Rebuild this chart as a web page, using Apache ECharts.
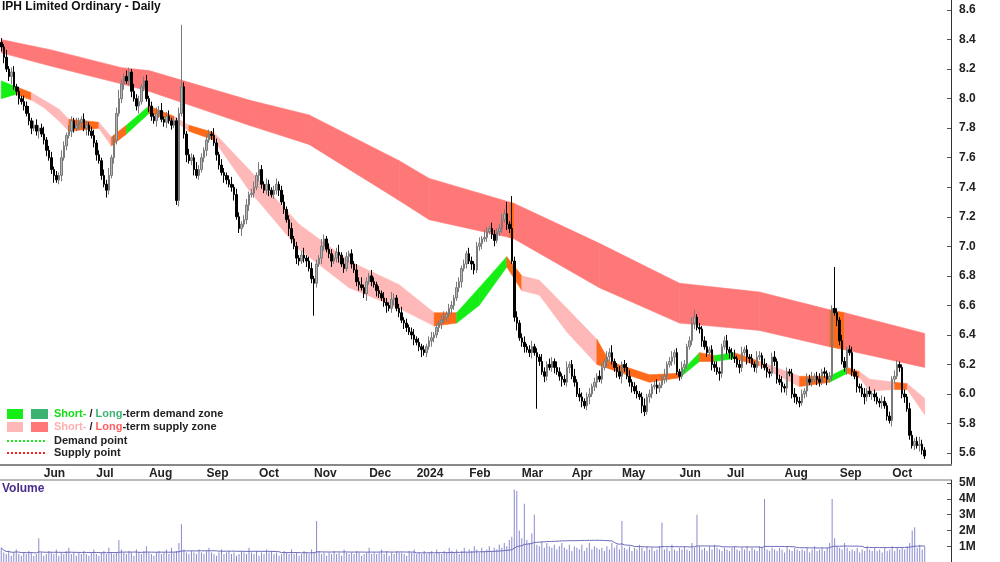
<!DOCTYPE html>
<html><head><meta charset="utf-8">
<script src="https://cdn.jsdelivr.net/npm/echarts@6/dist/echarts.min.js"></script>
<style>html,body{margin:0;padding:0;background:#fff}#c{width:1000px;height:562px}</style>
</head><body><div id="c"></div>
<script>
// Closing prices in cents (one per trading day)
const closes = [
835,828,820,815, 818,808,805,800, 798,795,790,785, 780,782,778,780, 776,772,765,760,
752,748,745,748, 760,768,775,778, 785,780,782,784, 786,780,782,778, 775,770,762,758,
748,742,738,748, 760,772,790,800, 810,815,812,818, 805,800,795,798, 808,812,800,795,
788,785,790,792, 786,784,788,785, 782,785,731,790, 808,776,762,758, 760,752,748,752,
760,765,772,776, 775,770,762,755, 750,748,745,742, 740,735,720,712, 715,718,728,735,
736,740,748,752, 742,738,742,738, 735,738,742,738, 730,725,718,712, 705,700,692,690,
694,692,690,685, 678,675,688,692, 700,705,698,695, 690,692,696,694, 688,685,693,695,
688,684,676,674, 672,668,676,680, 676,674,670,668, 665,662,660,658, 664,665,658,655,
650,648,645,642, 640,637,635,632, 630,628,632,636, 638,640,645,648, 650,652,654,658,
660,665,672,676, 685,688,695,690, 688,684,700,702, 705,706,710,712, 708,704,710,712,
718,722,715,712, 690,652,648,638, 635,632,630,628, 632,628,625,622, 615,612,620,618,
622,618,615,612, 610,608,618,620, 612,608,600,598, 595,592,598,600, 605,608,612,610,
618,622,625,628, 622,618,615,612, 620,618,612,608, 605,602,600,598, 592,588,598,600,
605,606,604,606, 610,612,620,622, 625,628,615,612, 618,620,632,636, 648,652,645,644,
636,632,628,630, 620,618,615,614, 632,636,630,628, 625,624,620,618, 628,630,625,624,
620,618,625,626, 620,618,615,614, 625,622,610,608, 605,604,615,614, 600,598,595,594,
600,602,610,608, 610,612,610,608, 615,614,610,612, 658,655,650,636, 622,618,630,628,
615,612,605,604, 600,598,602,600, 600,598,595,594, 595,592,585,582, 610,612,620,618,
600,598,590,572, 565,568,565,566, 562,558
];
// Upper / lower wick lengths in cents
const wickUp = [
3,2,5,2,3,4,2,3,2,4, 3,5,2,3,4,2,3,5,2,3, 4,2,3,2,5,3,2,4,3,2, 5,3,2,4,3,2,3,4,2,3,
2,4,3,5,2,3,4,6,3,2, 4,3,2,5,3,4,2,3,4,2, 3,2,4,3,5,2,3,4,2,3, 2,4,42,3,2,4,3,2,5,3,
3,2,4,3,2,5,3,2,4,3, 2,3,5,2,4,3,2,3,4,2, 3,4,2,5,3,2,4,3,2,3, 4,2,3,5,2,3,4,2,3,2,
3,5,2,3,4,2,3,2,5,3, 2,4,3,2,3,5,2,4,3,2, 3,2,4,3,5,2,3,2,4,3, 2,3,2,4,3,2,5,3,2,3,
4,2,3,2,3,4,2,3,2,3, 2,3,4,2,3,2,3,4,2,3, 3,2,4,3,2,3,2,4,3,2, 3,4,2,5,3,2,4,3,2,3,
4,3,8,2,22,3,4,2,3,4, 2,3,4,2,3,2,5,3,2,4, 3,2,4,3,2,3,4,2,3,5, 2,4,3,2,3,4,2,3,2,4,
3,2,4,3,5,2,3,4,2,3, 3,4,2,3,4,2,3,5,2,3, 2,3,4,2,3,5,2,3,4,2, 3,2,4,3,2,3,4,5,2,3,
2,3,4,2,3,2,4,3,2,3, 4,2,3,5,2,3,4,2,3,2, 3,2,4,3,2,4,3,2,3,4, 2,3,4,2,3,2,3,4,2,3,
3,2,4,3,5,2,3,4,2,3, 2,3,2,28,3,2,4,3,2,3, 4,2,3,2,3,4,2,3,2,3, 3,2,4,3,2,3,2,4,3,2,
2,3,2,4,3,2,3,5,3,2, 4,3,2,8,3,4,2,3,3,2
];
const wickDn = [
3,4,2,3,5,2,3,4,2,3, 2,3,4,2,3,5,2,3,4,2, 3,5,2,3,4,2,3,2,4,3, 2,3,4,2,5,3,2,3,4,2,
3,2,5,3,2,4,3,2,3,4, 2,3,4,2,3,5,2,3,2,4, 3,2,4,3,2,3,4,2,3,2, 3,4,2,3,5,2,3,4,2,3,
2,3,4,2,3,2,4,3,2,5, 3,2,3,4,2,3,5,2,3,4, 2,3,2,4,3,2,3,4,2,3, 3,4,2,3,2,5,3,2,4,3,
2,3,4,2,3,22,3,2,4,3, 2,3,4,2,3,5,2,3,2,4, 3,2,3,4,2,3,5,2,3,2, 4,3,2,3,5,2,3,4,2,3,
2,4,3,2,3,4,2,3,5,2, 3,2,4,3,2,3,4,2,3,2, 4,3,2,3,4,2,3,2,4,3, 2,3,4,2,3,2,3,4,2,3,
3,2,4,3,2,3,5,2,3,4, 2,3,4,2,35,3,2,4,3,2, 3,4,2,3,5,2,3,4,2,3, 2,3,4,2,3,5,2,3,4,2,
3,2,4,3,2,3,4,2,5,3, 2,3,4,2,3,2,5,3,2,4, 3,2,4,3,2,3,4,2,3,5, 2,3,2,4,3,2,3,4,2,3,
4,2,3,2,4,3,2,5,3,2, 3,4,2,3,2,4,3,2,5,3, 2,3,4,2,3,2,4,3,2,3, 3,2,4,3,5,2,3,4,2,3,
2,3,4,2,3,2,4,3,2,3, 4,2,3,2,4,3,2,3,5,2, 3,2,4,3,2,5,3,2,4,3, 2,3,4,2,3,2,4,3,2,3,
3,4,2,3,2,3,2,4,3,2, 3,2,4,3,3,2,4,3,2,3
];
// Volume in units of 0.1M shares
const volumes = [
9,6,5,7,4,6,8,5,4,6, 5,7,6,4,5,15,6,4,5,7, 6,5,8,4,6,5,7,9,5,6, 4,6,5,7,5,4,6,8,5,4,
6,7,5,9,6,5,6,14,8,6, 5,7,6,4,8,6,5,7,10,6, 5,4,6,7,5,6,8,5,9,6, 7,12,24,8,6,5,7,6,5,8,
6,5,7,9,6,5,4,6,8,5, 6,7,5,6,4,5,7,6,5,9, 6,5,7,4,6,5,8,6,7,5, 6,4,5,7,6,5,8,5,6,4,
5,7,6,5,8,6,26,7,5,6, 4,6,5,7,5,6,4,8,6,5, 6,5,7,6,4,5,6,9,5,6, 5,6,8,5,7,4,6,5,7,6,
6,5,4,7,6,8,5,6,5,7, 5,6,7,5,8,6,5,7,6,9, 7,6,8,5,7,9,6,8,7,10, 8,6,9,7,8,10,7,9,8,11,
9,12,10,14,16,46,45,20,15,37, 14,12,18,30,11,10,13,9,12,10, 9,11,8,10,12,9,8,11,7,10, 9,8,11,7,9,12,8,10,9,8,
9,7,10,8,12,9,11,8,26,9, 8,10,7,9,8,11,9,7,10,8, 9,7,8,10,25,8,9,7,11,8, 7,9,8,10,8,7,12,9,30,10,
8,9,7,10,8,11,9,8,7,9, 8,7,9,10,8,7,9,8,10,7, 9,8,7,10,9,40,8,7,9,8, 7,9,8,6,10,8,7,9,8,7,
8,7,9,6,8,10,7,8,9,7, 9,12,40,15,10,9,8,12,9,7, 8,7,9,6,8,7,10,8,7,9, 7,8,6,9,7,8,10,7,9,8,
9,8,10,12,20,22,9,11,8,10
];
// Long-term zone knots: index, upper, lower
const longIdx = [0,20,48,59,99,123,159,171,203,205,239,271,303,331,337,369];
const longUp  = [8.40,8.33,8.21,8.19,7.99,7.89,7.58,7.46,7.30,7.29,7.02,6.75,6.69,6.57,6.55,6.41];
const longLo  = [8.31,8.22,8.10,8.05,7.82,7.69,7.31,7.18,7.06,7.05,6.72,6.48,6.43,6.32,6.30,6.18];
const longKind= ['s','s','s','s','s','s','s','s','o','s','s','s','s','o','s'];
// Short-term zone knots
const shortIdx = [0,6,12,17,23,27,39,44,50,59,69,75,85,99,119,139,159,173,182,191,202,208,215,226,238,243,259,271,279,285,293,303,319,331,338,343,347,357,362,369];
const shortUp  = [8.12,8.08,8.04,7.99,7.93,7.86,7.84,7.74,7.82,7.95,7.88,7.82,7.77,7.52,7.15,6.90,6.74,6.55,6.55,6.72,6.93,6.80,6.77,6.58,6.37,6.22,6.13,6.14,6.28,6.26,6.28,6.22,6.12,6.12,6.18,6.15,6.10,6.08,6.07,5.97];
const shortLo  = [8.00,8.03,7.99,7.94,7.85,7.78,7.80,7.68,7.76,7.90,7.85,7.78,7.72,7.38,6.98,6.72,6.58,6.46,6.48,6.60,6.86,6.70,6.67,6.42,6.20,6.17,6.08,6.11,6.22,6.22,6.24,6.19,6.05,6.08,6.14,6.11,6.02,6.03,6.03,5.86];
const shortKind= ['g','o','p','p','p','o','p','o','g','o','p','o','p','p','p','p','p','o','g','g','o','p','p','p','o','o','o','g','o','g','o','p','o','g','o','p','p','o','p'];
const priceTicks = [5.6,5.8,6.0,6.2,6.4,6.6,6.8,7.0,7.2,7.4,7.6,7.8,8.0,8.2,8.4,8.6];
const volTicks = [1e6,2e6,3e6,4e6,5e6];
const holidays = ['2023-06-12','2023-12-25','2023-12-26','2024-01-01','2024-01-26','2024-03-29','2024-04-01','2024-04-25','2024-06-10'];
const blankDays = 10; // empty space after the last bar

const MONTHS=['Jan','Feb','Mar','Apr','May','Jun','Jul','Aug','Sep','Oct','Nov','Dec'];
const dates=[]; {let d=new Date(Date.UTC(2023,4,9));
 while(dates.length<closes.length+blankDays){const w=d.getUTCDay();const s=d.toISOString().slice(0,10);
  if(w!==0&&w!==6&&holidays.indexOf(s)<0)dates.push(s); d=new Date(d.getTime()+864e5);} }
const ohlc=closes.map((c,i)=>{const o=i?closes[i-1]:c+3;return [o/100,c/100,(Math.min(o,c)-wickDn[i])/100,(Math.max(o,c)+wickUp[i])/100];});
const vol=volumes.map(v=>v*1e5);
const volMA=vol.map((v,i)=>{const a=vol.slice(Math.max(0,i-39),i+1);return a.reduce((s,x)=>s+x,0)/a.length;});
const monthStart=i=>i===0||i>=closes.length?false:dates[i].slice(5,7)!==dates[i-1].slice(5,7);
const COL={s:'#ff7878',o:'#ff6a1a',p:'#ffb8b8',g:'#14ee14'};
function bandData(idx,up,lo){const r=[];for(let k=0;k<idx.length-1;k++)r.push([idx[k],up[k],lo[k],idx[k+1],up[k+1],lo[k+1],k]);return r;}
function bandSeries(idx,up,lo,kind,z){return {type:'custom',xAxisIndex:0,yAxisIndex:0,z:z,silent:true,
 data:bandData(idx,up,lo),encode:{x:[0,3],y:[1,2,4,5]},
 renderItem:(p,api)=>{const a=api.coord([api.value(0),api.value(1)]),b=api.coord([api.value(3),api.value(4)]),
  c=api.coord([api.value(3),api.value(5)]),d=api.coord([api.value(0),api.value(2)]);const col=COL[kind[api.value(6)]];
  return {type:'polygon',shape:{points:[a,b,c,d]},style:{fill:col,stroke:col,lineWidth:0.6}};}};}

const chart=echarts.init(document.getElementById('c'),null,{renderer:'canvas'});
const lab={color:'#222',fontWeight:'bold',fontSize:12,fontFamily:'Liberation Sans, Arial'};
chart.setOption({animation:false,backgroundColor:'#fff',
 grid:[{left:0,right:49,top:0,bottom:97},{left:0,right:49,top:480,bottom:0}],
 xAxis:[{type:'category',data:dates,gridIndex:0,boundaryGap:true,
   axisLine:{lineStyle:{color:'#888',width:2}},
   axisTick:{inside:true,length:4,interval:(i)=>monthStart(i),lineStyle:{color:'#666'}},
   axisLabel:{interval:(i)=>monthStart(i),align:'left',margin:3,...lab,
     formatter:(v)=>{const m=+v.slice(5,7)-1;return m===0?v.slice(0,4):MONTHS[m];}},splitLine:{show:false}},
  {type:'category',data:dates,gridIndex:1,boundaryGap:true,axisLine:{show:false},axisTick:{show:false},axisLabel:{show:false}}],
 yAxis:[{type:'value',gridIndex:0,position:'right',min:5.519,max:8.668,
   axisLine:{show:true,lineStyle:{color:'#333',width:1}},
   axisTick:{show:true,customValues:priceTicks,length:4,inside:true,lineStyle:{color:'#555'}},
   axisLabel:{customValues:priceTicks,margin:8,...lab,formatter:v=>v.toFixed(1)},splitLine:{show:false}},
  {type:'value',gridIndex:1,position:'right',min:0,max:5.2e6,
   axisLine:{show:true,lineStyle:{color:'#333'}},
   axisTick:{show:true,customValues:volTicks,length:4,inside:true,lineStyle:{color:'#555'}},
   axisLabel:{customValues:volTicks,margin:8,...lab,formatter:v=>Math.round(v/1e6)+'M'},splitLine:{show:false}}],
 series:[
  bandSeries(longIdx,longUp,longLo,longKind,1),
  bandSeries(shortIdx,shortUp,shortLo,shortKind,2),
  {type:'candlestick',data:ohlc,z:5,barWidth:2,
   itemStyle:{color:'#b4b4b4',borderColor:'#7a7a7a',color0:'#000',borderColor0:'#000',borderWidth:1}},
  {type:'bar',xAxisIndex:1,yAxisIndex:1,data:vol,barWidth:1,itemStyle:{color:'#8a8ad0'}},
  {type:'line',xAxisIndex:1,yAxisIndex:1,data:volMA,symbol:'none',lineStyle:{color:'#6a6ab8',width:1}}
 ],
 graphic:[
  {type:'text',left:2,top:1,style:{text:'IPH Limited Ordinary - Daily',fill:'#111',font:'bold 12px Liberation Sans, Arial'}},
  {type:'line',shape:{x1:0,y1:480,x2:951,y2:480},style:{stroke:'#777',lineWidth:1}},
  {type:'rect',shape:{x:7,y:409,width:16,height:10},style:{fill:'#14ee14'}},
  {type:'rect',shape:{x:31,y:409,width:17,height:10},style:{fill:'#3cb371'}},
  {type:'rect',shape:{x:7,y:422,width:16,height:10},style:{fill:'#ffb8b8'}},
  {type:'rect',shape:{x:31,y:422,width:17,height:10},style:{fill:'#ff7878'}},
  {type:'line',shape:{x1:7,y1:441,x2:46,y2:441},style:{stroke:'#14ee14',lineWidth:2,lineDash:[2,2]}},
  {type:'line',shape:{x1:7,y1:453,x2:46,y2:453},style:{stroke:'#ff2020',lineWidth:2,lineDash:[2,2]}},
  {type:'text',left:54,top:408,style:{text:'{g|Short-} / {d|Long}-term demand zone',font:'bold 11px Liberation Sans, Arial',fill:'#222',rich:{g:{fill:'#14dd14',font:'bold 11px Liberation Sans, Arial'},d:{fill:'#3cb371',font:'bold 11px Liberation Sans, Arial'}}}},
  {type:'text',left:54,top:421,style:{text:'{p|Short-} / {r|Long}-term supply zone',font:'bold 11px Liberation Sans, Arial',fill:'#222',rich:{p:{fill:'#ffb0b0',font:'bold 11px Liberation Sans, Arial'},r:{fill:'#ff6060',font:'bold 11px Liberation Sans, Arial'}}}},
  {type:'text',left:54,top:435,style:{text:'Demand point',font:'bold 11px Liberation Sans, Arial',fill:'#222'}},
  {type:'text',left:54,top:447,style:{text:'Supply point',font:'bold 11px Liberation Sans, Arial',fill:'#222'}},
  {type:'text',left:2,top:483,style:{text:'Volume',font:'bold 12px Liberation Sans, Arial',fill:'#4b2c8c'}}
 ]});
</script></body></html>
